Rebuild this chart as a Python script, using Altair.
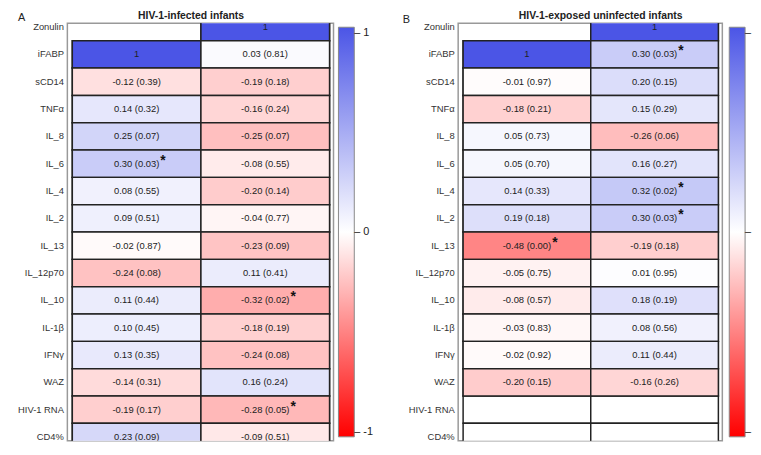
import altair as alt
import pandas as pd

rows = ["Zonulin", "iFABP", "sCD14", "TNFα", "IL_8", "IL_6", "IL_4", "IL_2", "IL_13",
        "IL_12p70", "IL_10", "IL-1β", "IFNγ", "WAZ", "HIV-1 RNA", "CD4%"]
cols = ["iFABP", "Zonulin"]
blank_cells = [("Zonulin", "iFABP")]  # upper triangle, not drawn

# Panel A: HIV-1-infected infants
a_ifabp_r = [None, 1, -0.12, 0.14, 0.25, 0.30, 0.08, 0.09, -0.02, -0.24, 0.11, 0.10, 0.13, -0.14, -0.19, 0.23]
a_ifabp_p = [None, None, 0.39, 0.32, 0.07, 0.03, 0.55, 0.51, 0.87, 0.08, 0.44, 0.45, 0.35, 0.31, 0.17, 0.09]
a_ifabp_star = [0, 0, 0, 0, 0, 1, 0, 0, 0, 0, 0, 0, 0, 0, 0, 0]
a_zon_r = [1, 0.03, -0.19, -0.16, -0.25, -0.08, -0.20, -0.04, -0.23, 0.11, -0.32, -0.18, -0.24, 0.16, -0.28, -0.09]
a_zon_p = [None, 0.81, 0.18, 0.24, 0.07, 0.55, 0.14, 0.77, 0.09, 0.41, 0.02, 0.19, 0.08, 0.24, 0.05, 0.51]
a_zon_star = [0, 0, 0, 0, 0, 0, 0, 0, 0, 0, 1, 0, 0, 0, 1, 0]

# Panel B: HIV-1-exposed uninfected infants
b_ifabp_r = [None, 1, -0.01, -0.18, 0.05, 0.05, 0.14, 0.19, -0.48, -0.05, -0.08, -0.03, -0.02, -0.20, None, None]
b_ifabp_p = [None, None, 0.97, 0.21, 0.73, 0.70, 0.33, 0.18, 0.00, 0.75, 0.57, 0.83, 0.92, 0.15, None, None]
b_ifabp_star = [0, 0, 0, 0, 0, 0, 0, 0, 1, 0, 0, 0, 0, 0, 0, 0]
b_zon_r = [1, 0.30, 0.20, 0.15, -0.26, 0.16, 0.32, 0.30, -0.19, 0.01, 0.18, 0.08, 0.11, -0.16, None, None]
b_zon_p = [None, 0.03, 0.15, 0.29, 0.06, 0.27, 0.02, 0.03, 0.18, 0.95, 0.19, 0.56, 0.44, 0.26, None, None]
b_zon_star = [0, 1, 0, 0, 0, 0, 1, 1, 0, 0, 0, 0, 0, 0, 0, 0]

titles = ["HIV-1-infected infants", "HIV-1-exposed uninfected infants"]
letters = ["A", "B"]


def build(rlists, plists, slists):
    recs = []
    for col, rv, pv, sv in zip(cols, rlists, plists, slists):
        for row, r, p, s in zip(rows, rv, pv, sv):
            if (row, col) in blank_cells:
                continue
            if r is None:
                lab = ""
            elif r == 1:
                lab = "1"
            else:
                lab = f"{r:.2f} ({p:.2f})"
            recs.append({"row": row, "col": col, "r": r, "label": lab, "star": bool(s)})
    return pd.DataFrame(recs)


df_a = build([a_ifabp_r, a_zon_r], [a_ifabp_p, a_zon_p], [a_ifabp_star, a_zon_star])
df_b = build([b_ifabp_r, b_zon_r], [b_ifabp_p, b_zon_p], [b_ifabp_star, b_zon_star])

FONT = "Liberation Sans"
H = 422


def panel(df, title, letter, width, title_x, letter_x, letter_y, label_expr):
    base = alt.Chart(df)
    x = alt.X("col:N", scale=alt.Scale(domain=cols, range=[5, width - 4]), axis=None)
    y = alt.Y("row:N", scale=alt.Scale(domain=rows, range=[-10, 432]),
              axis=alt.Axis(title=None, domain=False, ticks=False, labelPadding=4,
                            labelFontSize=9.5, labelColor="#333", labelFont=FONT))
    leg = alt.Legend(title=None, orient="none", legendX=274, legendY=4,
                     direction="vertical", gradientLength=414,
                     gradientThickness=16, gradientStrokeColor="#888",
                     gradientStrokeWidth=1, values=[-1, 0, 1],
                     labelExpr=label_expr, labelFontSize=11, labelOffset=0,
                     labelBaseline="middle", labelColor="#222", labelFont=FONT)
    bg = base.mark_rect(fill="white", stroke="#222", strokeWidth=1.5, clip=True).encode(x=x, y=y)
    heat = base.transform_filter("datum.r != null").mark_rect(
        stroke="#222", strokeWidth=1.5, clip=True).encode(
        x=x, y=y,
        color=alt.Color("r:Q",
                        scale=alt.Scale(domain=[-1, 0, 1], range=["#ff0000", "#ffffff", "#4b55e6"],
                                        interpolate="rgb"),
                        legend=leg))
    txt = base.mark_text(fontSize=9.5, color="#222", font=FONT, clip=True).encode(
        x=x, y=y, text="label:N")
    star_pos = base.transform_filter("datum.star && datum.r >= 0").mark_text(
        align="left", dx=24, dy=-3, fontSize=14, fontWeight="bold", color="#111", font=FONT).encode(
        x=x, y=y, text=alt.value("*"))
    star_neg = base.transform_filter("datum.star && datum.r < 0").mark_text(
        align="left", dx=25.5, dy=-3, fontSize=14, fontWeight="bold", color="#111", font=FONT).encode(
        x=x, y=y, text=alt.value("*"))
    ttl = alt.Chart(pd.DataFrame({"t": [title]})).mark_text(
        fontSize=10.5, fontWeight="bold", color="#222", font=FONT, baseline="alphabetic").encode(
        x=alt.value(title_x), y=alt.value(-4), text="t:N")
    let = alt.Chart(pd.DataFrame({"t": [letter]})).mark_text(
        fontSize=11, color="#222", font=FONT, baseline="alphabetic", align="left").encode(
        x=alt.value(letter_x), y=alt.value(letter_y), text="t:N")
    return alt.layer(bg, heat, txt, star_pos, star_neg, ttl, let).properties(width=width, height=H)


lab_a = "datum.value == 1 ? '– 1' : (datum.value == 0 ? '– 0' : '– -1')"
lab_b = "'–'"
pa = panel(df_a, titles[0], letters[0], 269, 125, -50, -2, lab_a)
pb = panel(df_b, titles[1], letters[1], 267, 144, -56, 0, lab_b)

chart = alt.hconcat(pa, pb, spacing=28).resolve_scale(color="independent").properties(
    padding={"left": 8, "top": 0, "right": 0, "bottom": 0}
).configure(font=FONT).configure_view(stroke="#999", strokeWidth=1.5)

chart.save("out.html", embed_options={"renderer": "svg", "actions": False})
